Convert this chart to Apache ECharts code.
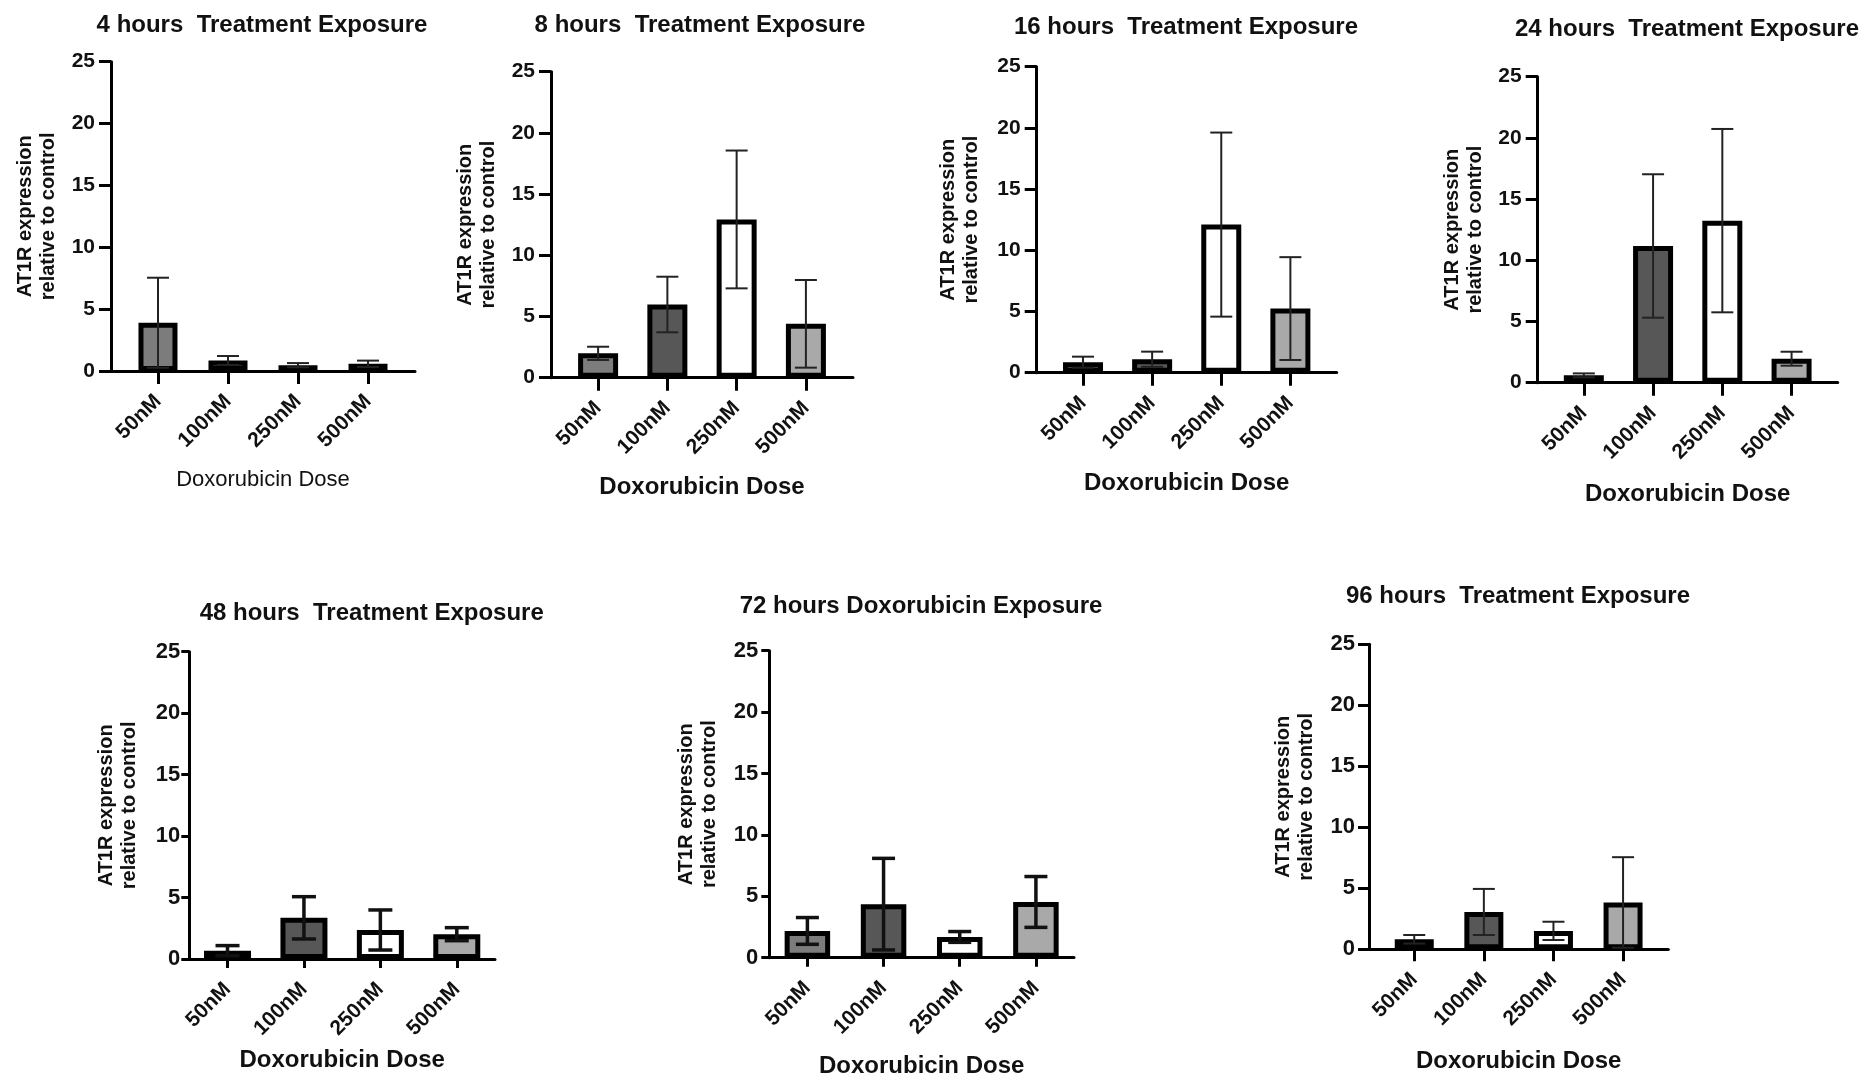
<!DOCTYPE html>
<html>
<head>
<meta charset="utf-8">
<script src="https://cdn.jsdelivr.net/npm/echarts@6/dist/echarts.min.js"></script>
<style>
  html, body { margin: 0; padding: 0; background: #ffffff; }
  #chart { width: 1865px; height: 1077px; }
</style>
</head>
<body>
<div id="chart"></div>
<script>
// Doxorubicin doses on the x axis of every panel
const doses = ['50nM', '100nM', '250nM', '500nM'];

// Panel titles, one per exposure time
const exposureTitles = [
  '4 hours  Treatment Exposure',
  '8 hours  Treatment Exposure',
  '16 hours  Treatment Exposure',
  '24 hours  Treatment Exposure',
  '48 hours  Treatment Exposure',
  '72 hours Doxorubicin Exposure',
  '96 hours  Treatment Exposure'
];

// AT1R expression relative to control: mean and SD per dose
const mean4h  = [3.90, 0.85, 0.47, 0.58];
const sd4h    = [3.64, 0.36, 0.17, 0.26];
const mean8h  = [1.99, 5.98, 12.93, 4.40];
const sd8h    = [0.54, 2.27, 5.63, 3.58];
const mean16h = [0.86, 1.10, 12.10, 5.24];
const sd16h   = [0.45, 0.62, 7.52, 4.20];
const mean24h = [0.60, 11.17, 13.24, 1.96];
const sd24h   = [0.16, 5.86, 7.49, 0.57];
const mean48h = [0.68, 3.35, 2.36, 2.02];
const sd48h   = [0.41, 1.72, 1.63, 0.53];
const mean72h = [2.18, 4.36, 1.69, 4.54];
const sd72h   = [1.09, 3.73, 0.44, 2.07];
const mean96h = [0.82, 3.06, 1.51, 3.84];
const sd96h   = [0.35, 1.89, 0.75, 3.71];

// Shared value axis range
const yMin = 0;
const yMax = 25;
const yStep = 5;

const yAxisName = 'AT1R expression\nrelative to control';
const xAxisName = 'Doxorubicin Dose';

// Fill per dose
const doseColors = ['#7c7c7c', '#575757', '#ffffff', '#a9a9a9'];

const FONT = '"Liberation Sans", Arial, Helvetica, sans-serif';

// Layout of each panel
const panels = [
  { mean: mean4h,  sd: sd4h,  grid: { left: 111,    top: 61.7,  width: 304,   height: 309.3 }, pad: 0.671, barW: 39,   cap: 22, errW: 2,   errColor: '#222', yTick: 12, yMargin: 16, yFont: 21, xTick: 13, title: [262, 25],    xGap: 98,   yGap: 51,   xNameBold: false, xNameSize: 22 },
  { mean: mean8h,  sd: sd8h,  grid: { left: 551,    top: 71.7,  width: 302,   height: 306 },   pad: 0.68,  barW: 40,   cap: 22, errW: 2,   errColor: '#222', yTick: 12, yMargin: 16, yFont: 21, xTick: 13, title: [700, 25],    xGap: 98,   yGap: 51.5, xNameBold: true,  xNameSize: 24 },
  { mean: mean16h, sd: sd16h, grid: { left: 1036.7, top: 66.7,  width: 300,   height: 306 },   pad: 0.67,  barW: 40,   cap: 22, errW: 2,   errColor: '#222', yTick: 12, yMargin: 16, yFont: 21, xTick: 13, title: [1186, 27.3], xGap: 98.6, yGap: 53.5, xNameBold: true,  xNameSize: 24 },
  { mean: mean24h, sd: sd24h, grid: { left: 1537.7, top: 76.7,  width: 300,   height: 306 },   pad: 0.666, barW: 40,   cap: 22, errW: 2,   errColor: '#222', yTick: 12, yMargin: 16, yFont: 21, xTick: 13, title: [1687, 29],   xGap: 100,  yGap: 51,   xNameBold: true,  xNameSize: 24 },
  { mean: mean48h, sd: sd48h, grid: { left: 189.3,  top: 651.7, width: 305.7, height: 307.3 }, pad: 0.5,   barW: 47,   cap: 24, errW: 3.5, errColor: '#111', yTick: 8,  yMargin: 9,  yFont: 22, xTick: 9,  title: [371.7, 613.3], xGap: 89, yGap: 48,   xNameBold: true,  xNameSize: 24 },
  { mean: mean72h, sd: sd72h, grid: { left: 769.3,  top: 650.7, width: 304.7, height: 307 },   pad: 0.5,   barW: 45.5, cap: 23, errW: 3.5, errColor: '#111', yTick: 8,  yMargin: 11, yFont: 22, xTick: 9,  title: [921, 606.7], xGap: 97,   yGap: 48,   xNameBold: true,  xNameSize: 24 },
  { mean: mean96h, sd: sd96h, grid: { left: 1369,   top: 644.3, width: 299.3, height: 305 },   pad: 0.65,  barW: 39,   cap: 22, errW: 2,   errColor: '#222', yTick: 11, yMargin: 14, yFont: 22, xTick: 12, title: [1518, 596.7], xGap: 100, yGap: 51,   xNameBold: true,  xNameSize: 24 }
];

const grids = [], xAxes = [], yAxes = [], series = [], graphics = [];
const doseIndex = doses.map((d, i) => i);

panels.forEach((p, k) => {
  grids.push(Object.assign({ containLabel: false, outerBoundsMode: 'none' }, p.grid));

  xAxes.push({
    gridIndex: k,
    type: 'value',
    min: -p.pad,
    max: doses.length - 1 + p.pad,
    name: xAxisName,
    nameLocation: 'middle',
    nameGap: p.xGap,
    nameTextStyle: { fontFamily: FONT, fontSize: p.xNameSize, fontWeight: p.xNameBold ? 'bold' : 'normal', color: '#111' },
    axisLine: { show: true, onZero: false, lineStyle: { color: '#000', width: 3 } },
    axisTick: { show: true, inside: false, length: p.xTick, customValues: doseIndex, lineStyle: { color: '#000', width: 3 } },
    axisLabel: {
      show: true, rotate: 45, margin: 27, customValues: doseIndex,
      fontFamily: FONT, fontSize: 21, fontWeight: 'bold', color: '#111',
      formatter: v => doses[Math.round(v)] || ''
    },
    splitLine: { show: false }
  });

  yAxes.push({
    gridIndex: k,
    type: 'value',
    min: yMin, max: yMax, interval: yStep,
    name: yAxisName,
    nameLocation: 'middle',
    nameGap: p.yGap,
    nameTextStyle: { fontFamily: FONT, fontSize: 20, fontWeight: 'bold', color: '#111', lineHeight: 23 },
    axisLine: { show: true, onZero: false, lineStyle: { color: '#000', width: 3 } },
    axisTick: { show: true, inside: false, length: p.yTick, lineStyle: { color: '#000', width: 3 } },
    axisLabel: { margin: p.yMargin, fontFamily: FONT, fontSize: p.yFont, fontWeight: 'bold', color: '#111' },
    splitLine: { show: false }
  });

  series.push({
    type: 'bar',
    xAxisIndex: k, yAxisIndex: k,
    barWidth: p.barW,
    z: 3,
    silent: true,
    data: p.mean.map((m, i) => ({
      value: [i, m],
      itemStyle: { color: doseColors[i], borderColor: '#000', borderWidth: 5 }
    }))
  });

  // SD whiskers drawn over the bars
  series.push({
    type: 'custom',
    xAxisIndex: k, yAxisIndex: k,
    z: 5,
    silent: true,
    clip: false,
    encode: { x: 0, y: [1, 2] },
    data: p.mean.map((m, i) => [i, m - p.sd[i], m + p.sd[i]]),
    renderItem: (params, api) => {
      const x = api.value(0);
      const lo = api.coord([x, api.value(1)]);
      const hi = api.coord([x, api.value(2)]);
      const hw = p.cap / 2;
      const style = { stroke: p.errColor, lineWidth: p.errW, fill: null };
      return {
        type: 'group',
        children: [
          { type: 'line', shape: { x1: lo[0], y1: lo[1], x2: hi[0], y2: hi[1] }, style },
          { type: 'line', shape: { x1: hi[0] - hw, y1: hi[1], x2: hi[0] + hw, y2: hi[1] }, style },
          { type: 'line', shape: { x1: lo[0] - hw, y1: lo[1], x2: lo[0] + hw, y2: lo[1] }, style }
        ]
      };
    }
  });

  graphics.push({
    type: 'text',
    x: p.title[0], y: p.title[1],
    style: {
      text: exposureTitles[k],
      font: 'bold 24px ' + FONT,
      fill: '#111',
      align: 'center', verticalAlign: 'middle',
      textAlign: 'center', textVerticalAlign: 'middle'
    }
  });
});

const chart = echarts.init(document.getElementById('chart'), null, { renderer: 'canvas' });
chart.setOption({
  backgroundColor: '#ffffff',
  animation: false,
  grid: grids,
  xAxis: xAxes,
  yAxis: yAxes,
  series: series,
  graphic: graphics
});
</script>
</body>
</html>
